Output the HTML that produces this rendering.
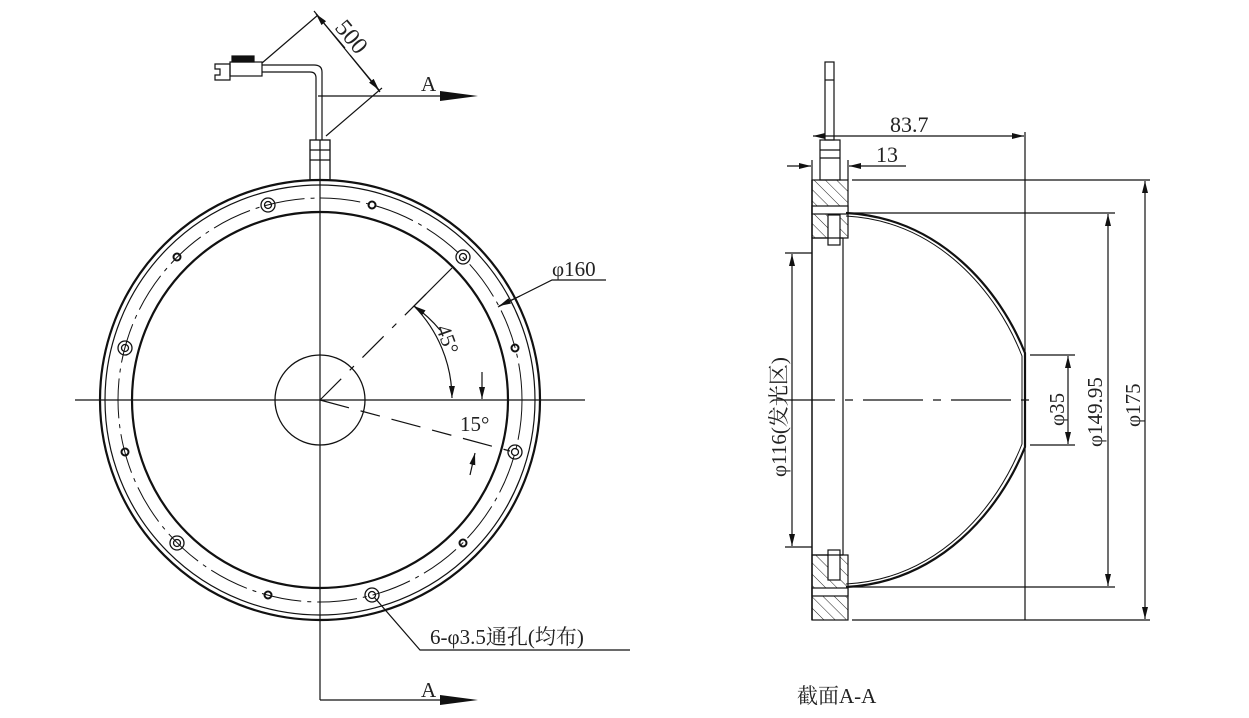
<!DOCTYPE html>
<html><head><meta charset="utf-8"><style>
html,body{margin:0;padding:0;background:#fff}
svg{display:block}
text{font-family:"Liberation Serif","Noto Serif CJK SC",serif;fill:#222}
</style></head><body>
<svg width="1249" height="718" viewBox="0 0 1249 718" xmlns="http://www.w3.org/2000/svg">
<defs>
<marker id="ar" markerWidth="12" markerHeight="6" refX="12" refY="3" orient="auto" markerUnits="userSpaceOnUse"><path d="M0,0 L12,3 L0,6 z" fill="#111"/></marker>
<pattern id="hatch" width="8" height="8" patternUnits="userSpaceOnUse" patternTransform="rotate(-45)"><line x1="0" y1="0" x2="0" y2="8" stroke="#222" stroke-width="1"/></pattern>
</defs>
<g stroke="#111" fill="none" stroke-width="1.2">
<circle cx="320" cy="400" r="220" stroke-width="2.2"/>
<circle cx="320" cy="400" r="215" stroke-width="1.2"/>
<circle cx="320" cy="400" r="202" stroke-width="1" stroke-dasharray="40 6 4 6"/>
<circle cx="320" cy="400" r="188" stroke-width="2.2"/>
<circle cx="320" cy="400" r="45" stroke-width="1.3"/>
<g stroke-width="1.3">
<circle cx="463" cy="257" r="7"/><circle cx="463" cy="257" r="3.5"/>
<circle cx="515" cy="452" r="7"/><circle cx="515" cy="452" r="3.5"/>
<circle cx="372" cy="595" r="7"/><circle cx="372" cy="595" r="3.5"/>
<circle cx="177" cy="543" r="7"/><circle cx="177" cy="543" r="3.5"/>
<circle cx="125" cy="348" r="7"/><circle cx="125" cy="348" r="3.5"/>
<circle cx="268" cy="205" r="7"/><circle cx="268" cy="205" r="3.5"/>
</g>
<g stroke-width="2">
<circle cx="515" cy="348" r="3.5"/><circle cx="372" cy="205" r="3.5"/><circle cx="177" cy="257" r="3.5"/>
<circle cx="125" cy="452" r="3.5"/><circle cx="268" cy="595" r="3.5"/><circle cx="463" cy="543" r="3.5"/>
</g>
<line x1="75" y1="400" x2="585" y2="400"/>
<line x1="320" y1="140" x2="320" y2="700"/>
<line x1="320" y1="700" x2="440" y2="700"/>
<line x1="320" y1="400" x2="430" y2="290" stroke-dasharray="30 12 6 12"/>
<line x1="320" y1="400" x2="510" y2="451" stroke-dasharray="30 12 20 12"/>
<path d="M414,306 A133,133 0 0 1 452,398" marker-end="url(#ar)"/>
<path d="M440,330 A133,133 0 0 0 414,306" marker-end="url(#ar)"/>
<line x1="413" y1="307" x2="452" y2="268"/>
<line x1="482" y1="372" x2="482" y2="399" marker-end="url(#ar)"/>
<line x1="470" y1="475" x2="475" y2="453" marker-end="url(#ar)"/>
<polyline points="498,307 552,280 606,280"/>
<line x1="520" y1="296" x2="499" y2="306" marker-end="url(#ar)"/>
<polyline points="374,597 420,650 630,650"/>
<rect x="310" y="140" width="20" height="40" stroke-width="1.3"/>
<line x1="310" y1="150" x2="330" y2="150"/><line x1="310" y1="160" x2="330" y2="160"/>
<path d="M316,140 V78 Q316,72 310,72 H262"/>
<path d="M322,140 V72 Q322,65 314,65 H262"/>
<rect x="230" y="62" width="32" height="14"/>
<path d="M215,64 H230 V80 H215 V75 H220 V69 H215 Z"/>
<rect x="232" y="56" width="22" height="6" fill="#111"/>
<line x1="262" y1="63" x2="318" y2="15"/>
<line x1="326" y1="136" x2="382" y2="88"/>
<line x1="314" y1="11" x2="380" y2="92"/>
<line x1="345" y1="48" x2="316" y2="14" marker-end="url(#ar)"/>
<line x1="350" y1="55" x2="379" y2="90" marker-end="url(#ar)"/>
<line x1="318" y1="96" x2="440" y2="96"/>
<rect x="812" y="180" width="36" height="58" fill="url(#hatch)"/>
<rect x="812" y="555" width="36" height="65" fill="url(#hatch)"/>
<rect x="812" y="206" width="36" height="8" fill="#fff"/>
<rect x="812" y="588" width="36" height="8" fill="#fff"/>
<rect x="828" y="215" width="12" height="30" fill="#fff"/>
<rect x="828" y="550" width="12" height="30" fill="#fff"/>
<line x1="812" y1="180" x2="812" y2="620" stroke-width="1.5"/>
<line x1="843" y1="238" x2="843" y2="555"/>
<line x1="812" y1="238" x2="843" y2="238"/>
<line x1="812" y1="555" x2="843" y2="555"/>
<rect x="820" y="140" width="20" height="40"/>
<line x1="820" y1="150" x2="840" y2="150"/><line x1="820" y1="158" x2="840" y2="158"/>
<rect x="825" y="62" width="9" height="78"/>
<line x1="825" y1="80" x2="834" y2="80"/>
<path d="M846,213 C940,218 1000,290 1025,353 V447 C1000,510 940,582 846,587" stroke-width="2.2"/>
<path d="M846,216 C938,221 997,292 1022,356 V444 C997,508 938,579 846,584" stroke-width="1"/>
<line x1="852" y1="180" x2="1150" y2="180"/>
<line x1="852" y1="620" x2="1150" y2="620"/>
<line x1="848" y1="213" x2="1115" y2="213"/>
<line x1="848" y1="587" x2="1115" y2="587"/>
<line x1="1025" y1="132" x2="1025" y2="620"/>
<line x1="1030" y1="355" x2="1075" y2="355"/>
<line x1="1030" y1="445" x2="1075" y2="445"/>
<line x1="775" y1="400" x2="1033" y2="400" stroke-dasharray="60 10 8 10"/>
<line x1="1145" y1="400" x2="1145" y2="181" marker-end="url(#ar)"/>
<line x1="1145" y1="400" x2="1145" y2="619" marker-end="url(#ar)"/>
<line x1="1108" y1="400" x2="1108" y2="214" marker-end="url(#ar)"/>
<line x1="1108" y1="400" x2="1108" y2="586" marker-end="url(#ar)"/>
<line x1="1068" y1="400" x2="1068" y2="356" marker-end="url(#ar)"/>
<line x1="1068" y1="400" x2="1068" y2="444" marker-end="url(#ar)"/>
<line x1="900" y1="136" x2="813" y2="136" marker-end="url(#ar)"/>
<line x1="900" y1="136" x2="1024" y2="136" marker-end="url(#ar)"/>
<line x1="787" y1="166" x2="811" y2="166" marker-end="url(#ar)"/>
<line x1="906" y1="166" x2="849" y2="166" marker-end="url(#ar)"/>
<line x1="812" y1="160" x2="812" y2="180"/>
<line x1="848" y1="160" x2="848" y2="180"/>
<line x1="785" y1="253" x2="812" y2="253"/>
<line x1="785" y1="547" x2="812" y2="547"/>
<line x1="792" y1="400" x2="792" y2="254" marker-end="url(#ar)"/>
<line x1="792" y1="400" x2="792" y2="546" marker-end="url(#ar)"/>
</g>
<path d="M440,91 L478,96 L440,101 Z" fill="#111"/>
<path d="M440,695 L478,700 L440,705 Z" fill="#111"/>
<g font-size="21">
<text x="421" y="91">A</text>
<text x="421" y="697">A</text>
<text x="552" y="276">φ160</text>
<text x="430" y="644">6-φ3.5通孔(均布)</text>
<text x="460" y="431">15°</text>
<text transform="translate(436,328) rotate(70)">45°</text>
<text transform="translate(334,28) rotate(50)" font-size="24">500</text>
<text x="890" y="132" font-size="22">83.7</text>
<text x="876" y="162" font-size="22">13</text>
<text transform="translate(1064,426) rotate(-90)">φ35</text>
<text transform="translate(1102,447) rotate(-90)">φ149.95</text>
<text transform="translate(1140,427) rotate(-90)">φ175</text>
<text transform="translate(786,477) rotate(-90)">φ116(发光区)</text>
<text x="797" y="703">截面A-A</text>
</g>
</svg>
</body></html>
